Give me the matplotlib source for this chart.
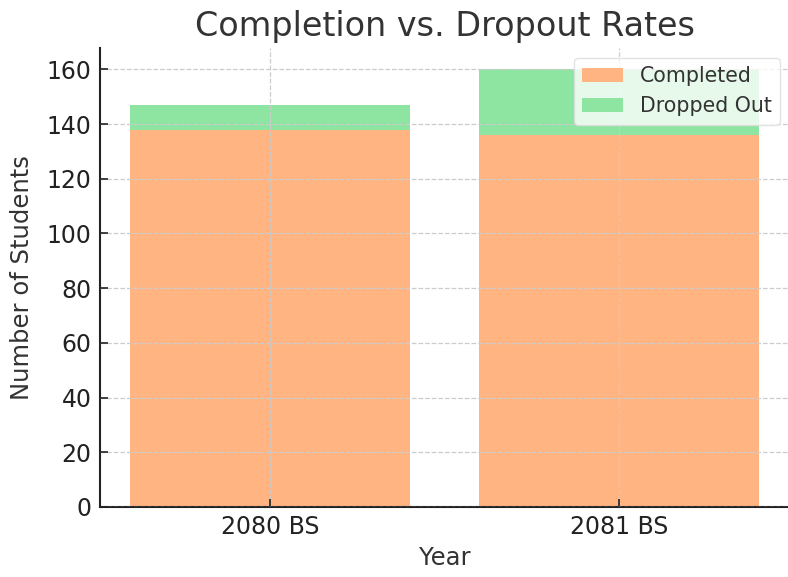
import matplotlib
matplotlib.use("Agg")
import matplotlib.pyplot as plt
import numpy as np

years = ["2080 BS", "2081 BS"]
completed = [138, 136]
dropped = [9, 24]

plt.rcParams['font.family'] = ['DejaVu Sans']
fig = plt.figure(figsize=(7.88, 5.77), dpi=100)
ax = fig.add_axes([100/788, 1-507/577, 690/788, (507-47.5)/577])

x = np.arange(len(years))
ax.bar(x, completed, width=0.8, color="#FFB482", label="Completed", zorder=1)
ax.bar(x, dropped, width=0.8, bottom=completed, color="#8DE5A1", label="Dropped Out", zorder=1)

ax.set_xticks(x)
ax.set_xticklabels(years)
ax.set_xlim(-0.487, 1.49)
ax.set_ylim(0, 168)
ax.set_yticks(range(0, 161, 20))
ax.set_axisbelow(False)
ax.grid(True, linestyle="--", color="#cccccc", linewidth=0.9, zorder=1.5)
for s in ["top", "right"]:
    ax.spines[s].set_visible(False)
for s in ["left", "bottom"]:
    ax.spines[s].set_linewidth(1.5)
    ax.spines[s].set_color("#222222")
ax.tick_params(direction="in", length=6, width=1.2, labelsize=17, colors="#222222", pad=6)
ax.set_xlabel("Year", fontsize=17.5, color="#333333", labelpad=5)
ax.set_ylabel("Number of Students", fontsize=17.5, color="#333333", labelpad=9)
ax.set_title("Completion vs. Dropout Rates", fontsize=24, color="#333333", pad=8)
leg = ax.legend(loc="upper right", fontsize=14.8, framealpha=0.8, edgecolor="#dddddd", fancybox=True)
for t in leg.get_texts():
    t.set_color("#333333")
fig.savefig("out.png", dpi=100)
